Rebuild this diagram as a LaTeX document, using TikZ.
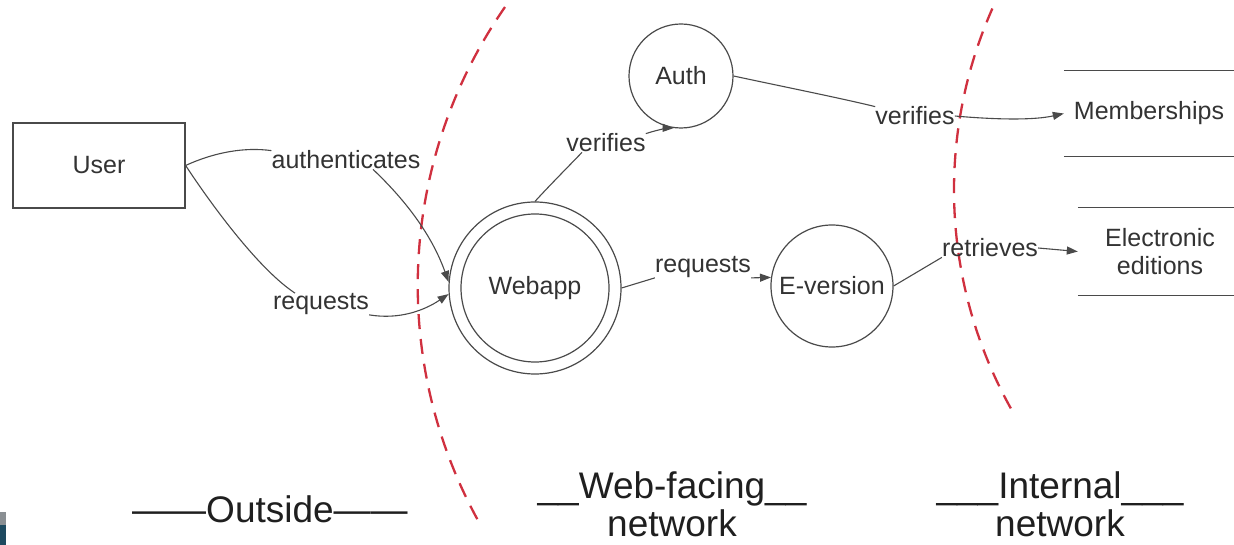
\documentclass[tikz,border=0pt]{standalone}
\usepackage{fontspec}
\setmainfont{Liberation Sans}
\usetikzlibrary{arrows.meta}
\definecolor{ln}{HTML}{4A4A4A}
\definecolor{txt}{HTML}{333333}
\definecolor{bnd}{HTML}{D0303F}
\definecolor{artA}{HTML}{8A8F93}
\definecolor{artB}{HTML}{1E4A60}
\begin{document}
\begin{tikzpicture}[x=1pt,y=-1pt,
  every node/.style={text=txt,font=\fontsize{25}{28}\selectfont},
  proc/.style={draw=ln,line width=1.2pt,circle,inner sep=0pt},
  conn/.style={draw=ln,line width=1.1pt},
  arr/.style={conn,-{Triangle[length=11pt,width=8pt]}},
  lbl/.style={inner sep=0pt},
  boundary/.style={draw=bnd,line width=2.3pt,dash pattern=on 15pt off 10pt},
  storeline/.style={draw=ln,line width=1.1pt},
  zone/.style={font=\fontsize{37}{38}\selectfont,align=center,text=black!88,inner sep=0pt}
]
\useasboundingbox (0,0) rectangle (1234,545);
% artifact at the lower left
\fill[artA] (0,512) rectangle (6,525);
\fill[artB] (0,525) rectangle (6,545);

% boundaries
\draw[boundary] (505,7) arc[start angle=214.8, end angle=150.7, radius=488];
\draw[boundary] (992.4,8.5) arc[start angle=203.9, end angle=149.6, radius=448];

% entities and processes
\node[draw=ln,line width=1.2pt,minimum width=172pt,minimum height=85pt,inner sep=0pt] (user) at (99,165.5) {User};
\node[proc,minimum size=104pt] (auth) at (681,76) {Auth};
\node[proc,minimum size=172pt] (web) at (535,288) {};
\node[proc,minimum size=148pt] (webin) at (535,288) {Webapp};
\node[proc,minimum size=122pt] (ev) at (832,286) {E-version};

% data stores
\node[minimum width=170pt,minimum height=85pt,inner sep=0pt] (memb) at (1149,113.5) {Memberships};
\draw[storeline] (memb.north west) -- (memb.north east);
\draw[storeline] (memb.south west) -- (memb.south east);
\node[minimum width=164pt,minimum height=87pt,inner sep=0pt,align=center] (ee) at (1160,251.5) {Electronic\\editions};
\draw[storeline] (ee.north west) -- (ee.north east);
\draw[storeline] (ee.south west) -- (ee.south east);

% labels
\node[lbl] (la) at (346,160) {authenticates};
\node[lbl] (lr) at (321,304) {requests};
\node[lbl] (lv1) at (606,143) {verifies};
\node[lbl] (lq) at (703,267) {requests};
\node[lbl] (lv2) at (915,116) {verifies};
\node[lbl] (lret) at (990,248) {retrieves};

% connectors
\draw[conn] (user.east) .. controls (215,152) and (245,147) .. (la.north west);
\draw[arr] ([xshift=27pt]la.south) .. controls (400,195) and (430,230) .. (web.176);
\draw[conn] (user.east) .. controls (215,210) and (260,270) .. ([xshift=-26pt]lr.north);
\draw[arr] (lr.south east) .. controls (400,320) and (425,310) .. (web.184);

\draw[conn] (web.north) .. controls (550,185) and (565,170) .. ([xshift=-24pt]lv1.south);
\draw[arr] (lv1.north east) .. controls (660,129) and (670,128) .. (auth.262);

\draw[conn] (web.east) -- (lq.south west);
\draw[arr] (lq.south east) -- (ev.172);

\draw[conn] (auth.east) .. controls (780,86) and (840,98) .. (lv2.north west);
\draw[arr] (lv2.east) .. controls (1000,120) and (1035,120) .. (memb.west);

\draw[conn] (ev.east) -- (lret.south west);
\draw[arr] (lret.east) -- (ee.west);

% zone labels
\node[zone,anchor=base] (zout) at (270,522) {——Outside——};
\node[zone] (zweb) at (672,504) {\_\_Web-facing\_\_\\network};
\node[zone] (zint) at (1060,504) {\_\_\_Internal\_\_\_\\network};
\end{tikzpicture}
\end{document}
